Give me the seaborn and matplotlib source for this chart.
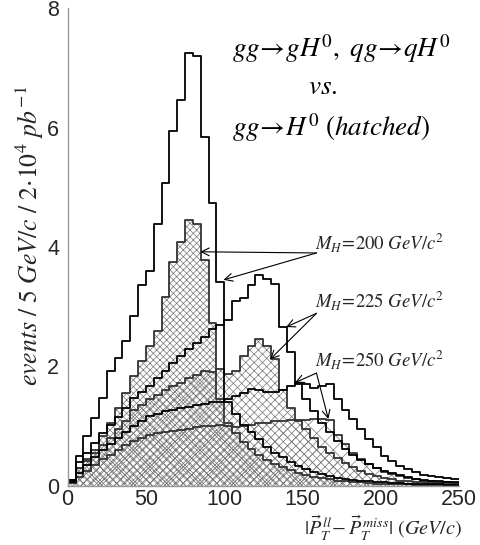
import numpy as np
import pandas as pd
import matplotlib
matplotlib.use("Agg")
import matplotlib.pyplot as plt
import seaborn as sns

# binning: 5 GeV/c bins from 0 to 250
bin_centers = np.arange(2.5, 250, 5)

# gg->gH, qg->qH (open histograms)
open_200 = [0.10, 0.51, 0.84, 1.14, 1.48, 1.92, 2.14, 2.42, 2.84, 3.37,
            3.59, 4.39, 5.07, 5.94, 6.46, 7.24, 7.19, 5.84, 4.74, 3.42,
            1.40, 1.20, 1.02, 0.90, 0.78, 0.66, 0.56, 0.48, 0.40, 0.34,
            0.28, 0.24, 0.20, 0.17, 0.14, 0.12, 0.10, 0.09, 0.08, 0.07,
            0.06, 0.05, 0.05, 0.04, 0.04, 0.03, 0.03, 0.03, 0.02, 0.02]
open_225 = [0.10, 0.40, 0.55, 0.72, 0.88, 1.02, 1.15, 1.30, 1.48, 1.58,
            1.67, 1.80, 1.92, 2.05, 2.18, 2.30, 2.40, 2.50, 2.62, 2.70,
            2.78, 3.09, 3.14, 3.37, 3.53, 3.46, 3.38, 2.66, 2.24, 1.70,
            1.45, 1.25, 1.05, 0.90, 0.75, 0.62, 0.52, 0.43, 0.36, 0.30,
            0.25, 0.21, 0.18, 0.15, 0.12, 0.10, 0.09, 0.08, 0.07, 0.06]
open_250 = [0.06, 0.22, 0.35, 0.48, 0.60, 0.70, 0.80, 0.90, 1.00, 1.08,
            1.17, 1.20, 1.25, 1.28, 1.30, 1.33, 1.36, 1.38, 1.40, 1.40,
            1.45, 1.50, 1.55, 1.62, 1.60, 1.58, 1.57, 1.60, 1.68, 1.72,
            1.70, 1.64, 1.68, 1.70, 1.45, 1.28, 1.12, 0.95, 0.78, 0.65,
            0.51, 0.42, 0.34, 0.28, 0.23, 0.19, 0.17, 0.15, 0.13, 0.12]

# gg->H (hatched histograms)
hatch_200 = [0.10, 0.30, 0.45, 0.60, 0.84, 1.06, 1.31, 1.56, 1.84, 2.09,
             2.34, 2.59, 3.17, 3.75, 4.09, 4.45, 4.39, 3.78, 2.73, 1.45,
             1.05, 0.88, 0.74, 0.62, 0.52, 0.44, 0.37, 0.31, 0.26, 0.22,
             0.18, 0.15, 0.13, 0.11, 0.09, 0.08, 0.07, 0.06, 0.05, 0.04,
             0.04, 0.03, 0.03, 0.03, 0.02, 0.02, 0.02, 0.02, 0.01, 0.01]
hatch_225 = [0.08, 0.30, 0.42, 0.55, 0.68, 0.80, 0.95, 1.08, 1.28, 1.35,
             1.45, 1.52, 1.60, 1.68, 1.72, 1.80, 1.85, 1.92, 1.90, 1.95,
             1.88, 1.92, 2.17, 2.34, 2.46, 2.34, 2.12, 1.60, 1.30, 1.10,
             0.95, 0.80, 0.66, 0.55, 0.46, 0.38, 0.31, 0.25, 0.20, 0.16,
             0.13, 0.11, 0.09, 0.08, 0.07, 0.06, 0.05, 0.05, 0.04, 0.04]
hatch_250 = [0.05, 0.15, 0.25, 0.35, 0.45, 0.52, 0.60, 0.68, 0.75, 0.80,
             0.85, 0.88, 0.90, 0.92, 0.94, 0.96, 0.98, 1.00, 1.00, 1.02,
             1.00, 0.98, 1.00, 1.02, 1.05, 1.05, 1.08, 1.08, 1.10, 1.08,
             1.10, 1.12, 1.12, 1.10, 0.85, 0.70, 0.55, 0.45, 0.36, 0.30,
             0.24, 0.20, 0.16, 0.13, 0.11, 0.09, 0.08, 0.07, 0.06, 0.05]

x_ticks = [0, 50, 100, 150, 200, 250]
y_ticks = [0, 2, 4, 6, 8]

sns.set_theme(style="white")
plt.rcParams["font.family"] = ["Liberation Sans", "DejaVu Sans"]
plt.rcParams["mathtext.fontset"] = "stix"
plt.rcParams["hatch.linewidth"] = 0.5
plt.rcParams["hatch.color"] = "#777777"

fig = plt.figure(figsize=(4.8, 5.45), dpi=100)
ax = fig.add_axes([0.141, 0.1083, 0.815, 0.877])


def hist_frame(vals):
    return pd.DataFrame({"pt": bin_centers, "w": vals})


def draw_hatched(vals, pattern):
    n0 = len(ax.collections)
    sns.histplot(data=hist_frame(vals), x="pt", weights="w", binwidth=5,
                 binrange=(0, 250), element="step", fill=True, ax=ax,
                 color="white", alpha=1.0)
    for coll in ax.collections[n0:]:
        coll.set_facecolor("none")
        coll.set_edgecolor("#777777")
        coll.set_linewidth(0)
        coll.set_hatch(pattern)


def draw_outline(vals, color):
    sns.histplot(data=hist_frame(vals), x="pt", weights="w", binwidth=5,
                 binrange=(0, 250), element="step", fill=False, ax=ax,
                 color=color, linewidth=1.3)


draw_hatched(hatch_250, "xx")
draw_hatched(hatch_225, "xxxx")
draw_hatched(hatch_200, "xxxxx")
for vals in (hatch_250, hatch_225, hatch_200):
    draw_outline(vals, "#333333")
for vals in (open_250, open_225, open_200):
    draw_outline(vals, "black")

ax.set_xlim(0, 250)
ax.set_ylim(0, 8)
ax.set_xticks(x_ticks)
ax.set_yticks(y_ticks)
ax.set_xlabel("")
ax.set_ylabel("")
ax.tick_params(direction="in", length=7, color="#999999", labelsize=15.5)
ax.tick_params(axis="x", pad=2)
ax.tick_params(axis="y", pad=6)
for side in ("top", "right"):
    ax.spines[side].set_visible(False)
for side in ("left", "bottom"):
    ax.spines[side].set_color("#999999")
    ax.spines[side].set_linewidth(1.0)

serif = dict(fontsize=19.5, color="black")
ax.text(105, 7.32, r"$gg\!\rightarrow\! gH^0,\ qg\!\rightarrow\! qH^0$",
        ha="left", va="center", **serif)
ax.text(163, 6.68, r"$vs.$", ha="center", va="center", **serif)
ax.text(105, 6.0, r"$gg\!\rightarrow\! H^0\ (hatched)$",
        ha="left", va="center", **serif)

# mass labels with arrows
labels = [r"$M_H\!=\!200\ GeV/c^2$", r"$M_H\!=\!225\ GeV/c^2$",
          r"$M_H\!=\!250\ GeV/c^2$"]
label_y = [4.07, 3.1, 2.12]
arrow_from = [(159, 3.9), (159, 2.89), (159, 1.89)]
arrow_to = [[(84.7, 3.92), (99.6, 3.45)],
            [(139.6, 2.66), (129.4, 2.12)],
            [(145.3, 1.73), (166.6, 1.12)]]
for lab, ly, start, targets in zip(labels, label_y, arrow_from, arrow_to):
    ax.text(158, ly, lab, ha="left", va="center", fontsize=13.5)
    for tgt in targets:
        ax.annotate("", xy=tgt, xytext=start,
                    arrowprops=dict(arrowstyle="->", color="black", lw=0.8,
                                    mutation_scale=14, shrinkA=0, shrinkB=0))

fig.text(0.062, 0.567,
         r"$events\ /\ 5\ GeV/c\ /\ 2{\cdot}10^4\ pb^{-1}$",
         rotation=90, ha="center", va="center", fontsize=18.5)
fig.text(0.962, 0.058,
         r"$|\vec{P}_T^{\,ll}\!-\vec{P}_T^{\,miss}|\ (GeV/c)$",
         ha="right", va="top", fontsize=14.5)

fig.savefig("out.png", dpi=100)
